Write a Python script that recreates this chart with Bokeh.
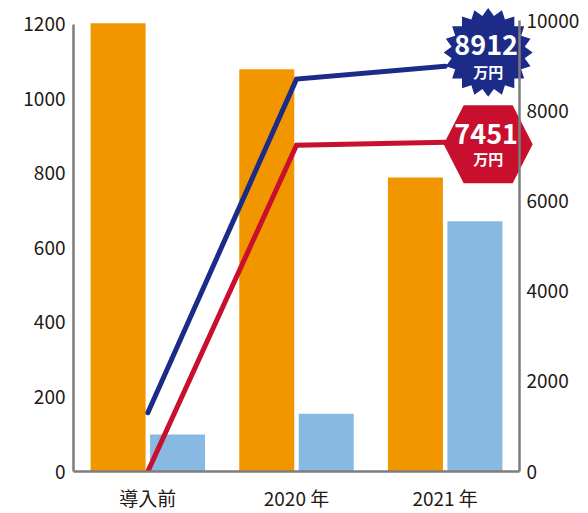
import numpy as np
from bokeh.plotting import figure
from bokeh.models import Range1d, LinearAxis, FixedTicker
from bokeh.core.properties import value
from bokeh.embed import file_html
from bokeh.resources import INLINE

# ---- data ----
categories = ["導入前", "2020 年", "2021 年"]
orange_vals = [1203, 1080, 789]
blue_vals = [99, 155, 672]
navy_line = [1305, 8700, 8985]
red_line = [0, 7235, 7300]
navy_label = "8912"
red_label = "7451"
unit_label = "万円"
left_ticks = [0, 200, 400, 600, 800, 1000, 1200]
right_ticks = [0, 2000, 4000, 6000, 8000, 10000]

FONT = "Noto Sans CJK JP"
TXT = "#231815"
AX = "#7d7d7d"
ORANGE = "#F29600"
LBLUE = "#88B9E3"
NAVY = "#1C2B87"
RED = "#C8102E"

W, H = 588, 513
BL, BR, BT, BB = 73, 69, 20, 41
frame_w = W - BL - BR
frame_h = H - BT - BB

p = figure(width=W, height=H, output_backend="svg", toolbar_location=None,
           x_range=Range1d(-0.5, 2.5), y_range=Range1d(0, 1200 * 452 / 448),
           min_border_left=BL, min_border_right=BR, min_border_top=BT, min_border_bottom=BB)
p.extra_y_ranges = {"right": Range1d(0, 10000)}
p.outline_line_color = None
p.xgrid.visible = False
p.ygrid.visible = False
p.background_fill_color = "white"
p.border_fill_color = "white"

xs = np.arange(len(categories))
bw = 0.37
p.vbar(x=xs - 0.2, top=orange_vals, width=bw, fill_color=ORANGE, line_color=None)
p.vbar(x=xs + 0.2, top=blue_vals, width=bw, fill_color=LBLUE, line_color=None)

p.line(xs, navy_line, y_range_name="right", line_color=NAVY, line_width=5,
       line_cap="round", line_join="miter")
p.line(xs, red_line, y_range_name="right", line_color=RED, line_width=5,
       line_cap="round", line_join="miter")

# ---- axes ----
def style_axis(ax):
    ax.axis_line_color = AX
    ax.axis_line_width = 2.5
    ax.major_tick_line_color = None
    ax.minor_tick_line_color = None
    ax.major_tick_out = 0
    ax.major_tick_in = 0
    ax.major_label_text_font = FONT
    ax.major_label_text_font_size = "19px"
    ax.major_label_text_color = TXT

yl = p.yaxis[0]
yl.ticker = FixedTicker(ticks=left_ticks)
yl.bounds = (0, 1200)
style_axis(yl)
yl.major_label_standoff = 8

yr = LinearAxis(y_range_name="right", ticker=FixedTicker(ticks=right_ticks))
yr.bounds = (0, 10000)
style_axis(yr)
yr.major_label_standoff = 7
p.add_layout(yr, "right")

xa = p.xaxis[0]
xa.ticker = FixedTicker(ticks=list(xs))
xa.major_label_overrides = {int(i): c for i, c in zip(xs, categories)}
style_axis(xa)
xa.major_label_standoff = 12

# ---- badges ----
px_x = frame_w / 3.0
px_r = frame_h / 10000.0

def to_data(cx, cy, offs):
    return ([cx + dx / px_x for dx, dy in offs],
            [cy - dy / px_r for dx, dy in offs])

# starburst (navy)
n = 20
ang = np.pi / 2 + np.arange(2 * n) * np.pi / n
rad = np.where(np.arange(2 * n) % 2 == 0, 44.5, 37.0)
star_offs = list(zip(rad * np.cos(ang), -rad * np.sin(ang)))
sx, sy = 2 + 43 / px_x, (472 - 52) / px_r
bx, by = to_data(sx, sy, star_offs)
p.patch(bx, by, y_range_name="right", fill_color=NAVY, line_color=None, level="guide")

# hexagon (red)
hex_offs = [(-44.5, 0), (-24.5, -39), (24.5, -39), (44.5, 0), (24.5, 39), (-24.5, 39)]
hx, hy = 2 + 43 / px_x, (472 - 144) / px_r
rx, ry = to_data(hx, hy, hex_offs)
p.patch(rx, ry, y_range_name="right", fill_color=RED, line_color=None, level="guide")

for (cx, cy, lab, o1, o2) in [(sx, sy, navy_label, -7, 19), (hx, hy, red_label, -10, 14)]:
    p.text(x=[cx - 2 / px_x], y=[cy], text=[lab], y_offset=o1, y_range_name="right",
           text_font=value(FONT), text_font_size="27px", text_font_style="bold",
           text_color="white", text_align="center", text_baseline="middle", level="guide")
    p.text(x=[cx], y=[cy], text=[unit_label], y_offset=o2, y_range_name="right",
           text_font=value(FONT), text_font_size="15px", text_font_style="bold",
           text_color="white", text_align="center", text_baseline="middle", level="guide")

open("out.html", "w").write(file_html(p, INLINE))
